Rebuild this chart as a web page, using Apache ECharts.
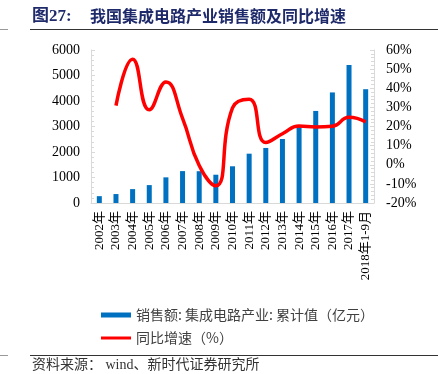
<!DOCTYPE html>
<html>
<head>
<meta charset="utf-8">
<script src="https://cdn.jsdelivr.net/npm/echarts@6/dist/echarts.min.js"></script>
<style>
html,body{margin:0;padding:0;background:#fff;}
#chart{width:438px;height:374px;}
</style>
</head>
<body>
<div id="chart"></div>
<script>
var categories = ['2002年','2003年','2004年','2005年','2006年','2007年','2008年','2009年','2010年','2011年','2012年','2013年','2014年','2015年','2016年','2017年','2018年1-9月'];
var salesValues = [268, 351, 545, 702, 1006, 1251, 1247, 1109, 1440, 1934, 2159, 2509, 3015, 3610, 4336, 5411, 4462];
var growthValues = [null, 30.9, 55.2, 28.7, 43.3, 24.3, -0.4, -11.0, 29.8, 34.3, 11.6, 16.2, 20.2, 19.7, 20.1, 24.8, 22.4];
var leftTicks = [0, 6000, 1000];
var rightTicks = [-20, 60, 10];
var titleText = '我国集成电路产业销售额及同比增速';
var figLabel = '图27:';
var sourceText = '资料来源： wind、新时代证券研究所';
var barName = '销售额: 集成电路产业: 累计值（亿元）';
var lineName = '同比增速（%）';

var serif = '"Liberation Serif","DejaVu Serif","Noto Sans CJK SC",serif';
var chart = echarts.init(document.getElementById('chart'));
var axisGray = '#d9d9d9';
chart.setOption({
  animation: false,
  backgroundColor: '#ffffff',
  graphic: [
    {type:'text', left:32, top:8, style:{text:figLabel, font:'bold 17px "Liberation Serif","Noto Sans CJK SC",serif', fill:'#1f2a6b'}},
    {type:'text', left:90, top:8, style:{text:titleText, font:'bold 16px "Noto Sans CJK SC",sans-serif', fill:'#1f2a6b'}},
    {type:'line', shape:{x1:0,y1:29.5,x2:8,y2:29.5}, style:{stroke:'#999',lineWidth:1}},
    {type:'line', shape:{x1:30,y1:29.5,x2:438,y2:29.5}, style:{stroke:'#333',lineWidth:1}},
    {type:'line', shape:{x1:0,y1:355.5,x2:8,y2:355.5}, style:{stroke:'#999',lineWidth:1}},
    {type:'line', shape:{x1:30,y1:355.5,x2:438,y2:355.5}, style:{stroke:'#333',lineWidth:1}},
    {type:'text', left:32, top:358, style:{text:sourceText, font:'14px "Liberation Serif","Noto Sans CJK SC",serif', fill:'#333'}}
  ],
  legend: [
    {data:[{name:barName, icon:'rect'}], left:96, top:303, itemWidth:30, itemHeight:5, itemGap:6,
     textStyle:{fontSize:14, color:'#404040', fontFamily:'"Noto Sans CJK SC",sans-serif'}},
    {data:[{name:lineName, icon:'rect'}], left:96, top:326, itemWidth:30, itemHeight:3, itemGap:6,
     textStyle:{fontSize:14, color:'#404040', fontFamily:'"Noto Sans CJK SC",sans-serif'}}
  ],
  grid: {left:91, right:64, top:50, bottom:171, containLabel:false},
  xAxis: {
    type:'category', data:categories,
    axisLine:{show:true, lineStyle:{color:axisGray}},
    axisTick:{show:false},
    axisLabel:{rotate:90, interval:0, color:'#000', fontSize:13, fontFamily:serif, margin:8}
  },
  yAxis: [
    {type:'value', min:leftTicks[0], max:leftTicks[1], interval:leftTicks[2],
     axisLine:{show:true, lineStyle:{color:axisGray}},
     axisTick:{show:true, inside:true, length:4, lineStyle:{color:axisGray}},
     minorTick:{show:true, splitNumber:5, length:3, lineStyle:{color:axisGray}},
     splitLine:{show:false},
     axisLabel:{color:'#000', fontSize:14, fontFamily:serif, margin:11, formatter:function(v){return String(v);}}},
    {type:'value', min:rightTicks[0], max:rightTicks[1], interval:rightTicks[2], position:'right',
     axisLine:{show:true, lineStyle:{color:axisGray}},
     axisTick:{show:true, inside:true, length:4, lineStyle:{color:axisGray}},
     minorTick:{show:true, splitNumber:5, length:3, lineStyle:{color:axisGray}},
     splitLine:{show:false},
     axisLabel:{color:'#000', fontSize:14, fontFamily:serif, margin:12, formatter:'{value}%'}}
  ],
  series: [
    {name:barName, type:'bar', data:salesValues, barWidth:5, itemStyle:{color:'#0070c0'}, z:2},
    {name:lineName, type:'line', yAxisIndex:1, data:growthValues, smooth:0.5, showSymbol:false, symbol:'none',
     connectNulls:false, lineStyle:{color:'#ff0000', width:3.5}, itemStyle:{color:'#ff0000'}, z:3}
  ]
});
</script>
</body>
</html>
